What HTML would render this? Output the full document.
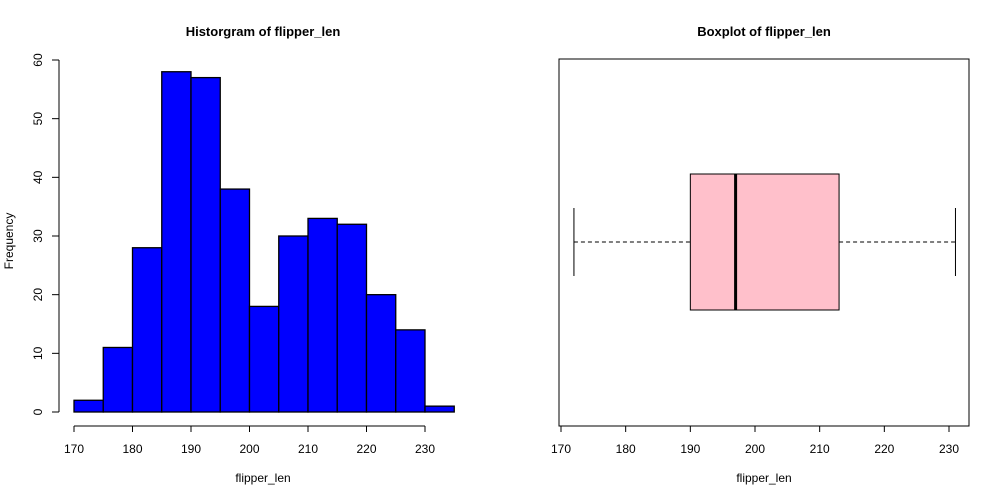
<!DOCTYPE html>
<html><head><meta charset="utf-8"><style>body{margin:0;background:#fff}svg{display:block;font-family:"Liberation Sans",Arial,sans-serif}</style></head>
<body>
<svg id="c" width="1000" height="500"></svg>
<script>
const binEdges=[170,175,180,185,190,195,200,205,210,215,220,225,230,235];
const counts=[2,11,28,58,57,38,18,30,33,32,20,14,1];
const histXTicks=[170,180,190,200,210,220,230];
const histYTicks=[0,10,20,30,40,50,60];
const boxStats=[172,190,197,213,231]; // min,q1,median,q3,max
const boxXTicks=[170,180,190,200,210,220,230];
const NS='http://www.w3.org/2000/svg',svg=document.getElementById('c');
function mk(t,a,txt,p){const e=document.createElementNS(NS,t);for(const k in a)e.setAttribute(k,a[k]);if(txt!=null)e.textContent=txt;(p||svg).appendChild(e);return e;}
const hx=v=>74+(v-170)*(425-74)/60, hy=v=>412-v*(412-60)/60;
const gh=mk('g',{});
counts.forEach((c,i)=>{const r=mk('rect',{x:hx(binEdges[i]),y:hy(c),width:hx(binEdges[i+1])-hx(binEdges[i]),height:hy(0)-hy(c),fill:'#0000ff',stroke:'#000','stroke-width':1.3},null,gh);

});
mk('line',{x1:hx(170),x2:hx(230),y1:426,y2:426,stroke:'#000'},null,gh);
histXTicks.forEach(t=>{mk('line',{x1:hx(t),x2:hx(t),y1:426,y2:432,stroke:'#000'},null,gh);const e=mk('text',{x:hx(t),y:453,'font-size':12,'text-anchor':'middle'},t,gh);});
mk('line',{x1:59,x2:59,y1:hy(0),y2:hy(60),stroke:'#000'},null,gh);
histYTicks.forEach(t=>{mk('line',{x1:52,x2:59,y1:hy(t),y2:hy(t),stroke:'#000'},null,gh);const e=mk('text',{x:42,y:hy(t),'font-size':12,'text-anchor':'middle',transform:`rotate(-90 42 ${hy(t)})`},t,gh);});
let e=mk('text',{x:263,y:36,'font-size':13,'font-weight':'bold','text-anchor':'middle'},'Historgram of flipper_len');
e=mk('text',{x:263,y:482,'font-size':12,'text-anchor':'middle'},'flipper_len');
e=mk('text',{x:13,y:241,'font-size':12,'text-anchor':'middle',transform:'rotate(-90 13 241)'},'Frequency');
const bx=v=>561+(v-170)*(949-561)/60;
const gb=mk('g',{});
mk('rect',{x:559,y:59,width:410,height:367,fill:'none',stroke:'#000'},null,gb);
const [mn,q1,md,q3,mx]=boxStats;
mk('line',{x1:bx(mn),x2:bx(q1),y1:242,y2:242,stroke:'#000','stroke-dasharray':'4,3'},null,gb);
mk('line',{x1:bx(q3),x2:bx(mx),y1:242,y2:242,stroke:'#000','stroke-dasharray':'4,3'},null,gb);
mk('line',{x1:bx(mn),x2:bx(mn),y1:208,y2:276,stroke:'#000'},null,gb);
mk('line',{x1:bx(mx),x2:bx(mx),y1:208,y2:276,stroke:'#000'},null,gb);
e=mk('rect',{x:bx(q1),y:174,width:bx(q3)-bx(q1),height:136,fill:'#ffc0cb',stroke:'#000'},null,gb);
mk('line',{x1:bx(md),x2:bx(md),y1:174,y2:310,stroke:'#000','stroke-width':3},null,gb);
boxXTicks.forEach(t=>{mk('line',{x1:bx(t),x2:bx(t),y1:426,y2:432,stroke:'#000'},null,gb);const e=mk('text',{x:bx(t),y:453,'font-size':12,'text-anchor':'middle'},t,gb);});
e=mk('text',{x:764,y:36,'font-size':13,'font-weight':'bold','text-anchor':'middle'},'Boxplot of flipper_len');
e=mk('text',{x:764,y:482,'font-size':12,'text-anchor':'middle'},'flipper_len');
</script>
</body></html>
